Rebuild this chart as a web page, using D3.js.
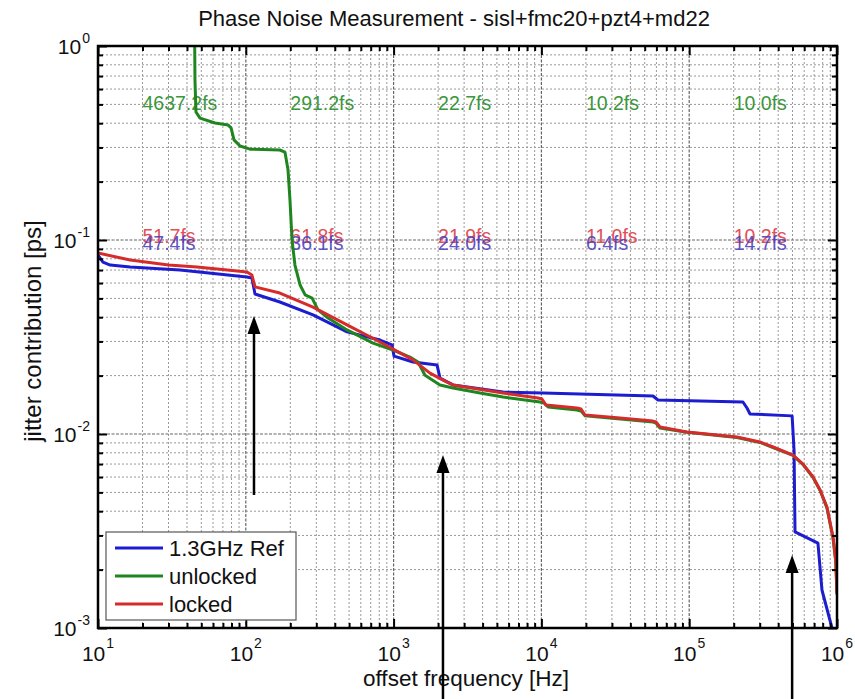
<!DOCTYPE html>
<html>
<head>
<meta charset="utf-8">
<script src="https://cdn.jsdelivr.net/npm/d3@7/dist/d3.min.js"></script>
<style>
  html, body { margin: 0; padding: 0; background: #fff; }
  svg { display: block; font-family: "Liberation Sans", Arial, Helvetica, sans-serif; }
</style>
</head>
<body>
<div id="chart"></div>
<script>
// ---------------- data ----------------
const title = "Phase Noise Measurement - sisl+fmc20+pzt4+md22";
const xLabel = "offset frequency [Hz]";
const yLabel = "jitter contribution [ps]";

const xTickExp = [1, 2, 3, 4, 5, 6];
const yTickExp = [-3, -2, -1, 0];

const seriesNames = ["1.3GHz Ref", "unlocked", "locked"];

// 1.3GHz Ref (blue)
const refFreq = [10, 10.8, 12.1, 16.5, 35.9, 101.8, 110, 115.4, 170, 285, 484, 809, 975, 1007,
  1352, 1967, 2060, 2523, 5500, 10260, 56900, 61500, 231000, 246000, 258000, 497000, 512000,
  520000, 743000, 791000, 925000, 960000];
const refJitter = [0.0837, 0.0770, 0.0743, 0.0726, 0.0701, 0.0645, 0.0637, 0.0527, 0.0479, 0.0411,
  0.0336, 0.0305, 0.0288, 0.0252, 0.0235, 0.0227, 0.0194, 0.0179, 0.01645, 0.01626, 0.01570,
  0.01497, 0.01462, 0.01361, 0.01268, 0.01240, 0.00827, 0.00313, 0.00274, 0.00157, 0.00100, 0.00085];

// unlocked (green)
const unlockedFreq = [45, 45.3, 46, 49, 61.9, 75.8, 79.5, 83.2, 91.4, 106.7, 170, 184, 193, 199,
  205.5, 215, 233, 252, 281, 308, 360, 484, 726, 991, 1291, 1463, 1631, 2060, 2523, 3846, 5500,
  9790, 10420, 11100, 17420, 18540, 19730, 56900, 59600, 63400, 96600, 210400, 301000, 369000,
  504000, 589000, 689000, 768000, 855000, 940000, 980000, 1000000];
const unlockedJitter = [1.3, 0.668, 0.457, 0.425, 0.401, 0.392, 0.378, 0.328, 0.305, 0.294, 0.291,
  0.284, 0.230, 0.161, 0.100, 0.0743, 0.0586, 0.0521, 0.0502, 0.0436, 0.0396, 0.0344, 0.0294,
  0.0271, 0.0249, 0.0235, 0.0201, 0.0179, 0.01726, 0.01626, 0.01551, 0.01462, 0.01445, 0.01378,
  0.01330, 0.01315, 0.01240, 0.01153, 0.01140, 0.01074, 0.01020, 0.00960, 0.00905, 0.00852,
  0.00775, 0.00696, 0.00596, 0.00511, 0.00416, 0.00290, 0.00221, 0.0015];

// locked (red)
const lockedFreq = [10, 16.5, 30, 46.8, 75, 101.8, 110, 115.4, 170, 285, 484, 809, 1352, 1762, 2297,
  2523, 5500, 9480, 10090, 10740, 17420, 18540, 19730, 34000, 56900, 59600, 63400, 96600, 210400,
  301000, 369000, 504000, 589000, 689000, 768000, 855000, 940000, 980000, 1000000];
const lockedJitter = [0.0857, 0.0788, 0.0743, 0.0726, 0.0701, 0.0684, 0.0660, 0.0573, 0.0533, 0.0451,
  0.0365, 0.0298, 0.0241, 0.0206, 0.0185, 0.0179, 0.01626, 0.01534, 0.01515, 0.01410, 0.01361,
  0.01346, 0.01253, 0.01208, 0.01166, 0.01153, 0.01087, 0.01024, 0.00966, 0.00910, 0.00857,
  0.00779, 0.00700, 0.00600, 0.00515, 0.00420, 0.00294, 0.00224, 0.00151];

// integrated jitter annotations per decade
const annotFreq = [20, 200, 2000, 20000, 200000];
const unlockedLabels = ["4637.2fs", "291.2fs", "22.7fs", "10.2fs", "10.0fs"];
const lockedLabels = ["51.7fs", "61.8fs", "21.9fs", "11.0fs", "10.2fs"];
const refLabels = ["47.4fs", "36.1fs", "24.0fs", "6.4fs", "14.7fs"];
const unlockedLabelLevel = 0.47;
const lockedLabelLevel = 0.096;
const refLabelLevel = 0.089;

// arrows (frequency, tip level, tail level)
const arrowFreq = [113.6, 2158, 497000];
const arrowTip = [0.0406, 0.0078, 0.00238];
const arrowTail = [0.00485, 0.00043, 0.00043];

// ---------------- drawing ----------------
const W = 855, H = 699;
const L = 98, R = 837, T = 46, B = 628;
const colors = { ref: "#1c1cd0", unlocked: "#1f861f", locked: "#d62b2b" };
const textColors = { ref: "#4a3dbf", unlocked: "#3c963c", locked: "#e2505a" };

const svg = d3.select("#chart").append("svg").attr("width", W).attr("height", H);

const x = d3.scaleLog().domain([10, 1e6]).range([L, R]);
const y = d3.scaleLog().domain([1e-3, 1]).range([B, T]);

const xMajor = xTickExp.map(e => Math.pow(10, e));
const yMajor = yTickExp.map(e => Math.pow(10, e));
const xMinor = [];
xMajor.slice(0, -1).forEach(d => { for (let k = 2; k <= 9; k++) xMinor.push(d * k); });
const yMinor = [];
yMajor.slice(0, -1).forEach(d => { for (let k = 2; k <= 9; k++) yMinor.push(d * k); });

// grid
const grid = svg.append("g");
grid.selectAll(".gxm").data(xMinor).join("line")
  .attr("x1", d => x(d)).attr("x2", d => x(d)).attr("y1", T).attr("y2", B)
  .attr("stroke", "#999").attr("stroke-width", 1).attr("stroke-dasharray", "2,2");
grid.selectAll(".gym").data(yMinor).join("line")
  .attr("y1", d => y(d)).attr("y2", d => y(d)).attr("x1", L).attr("x2", R)
  .attr("stroke", "#999").attr("stroke-width", 1).attr("stroke-dasharray", "2,2");
grid.selectAll(".gxM").data(xMajor).join("line")
  .attr("x1", d => x(d)).attr("x2", d => x(d)).attr("y1", T).attr("y2", B)
  .attr("stroke", "#666").attr("stroke-width", 1.2).attr("stroke-dasharray", "3,1.5");
grid.selectAll(".gyM").data(yMajor).join("line")
  .attr("y1", d => y(d)).attr("y2", d => y(d)).attr("x1", L).attr("x2", R)
  .attr("stroke", "#666").attr("stroke-width", 1.2).attr("stroke-dasharray", "3,1.5");

// clip
svg.append("clipPath").attr("id", "clip").append("rect")
  .attr("x", L).attr("y", T).attr("width", R - L).attr("height", B - T);

// annotation labels
const lab = svg.append("g").attr("font-size", "19.5px");
lab.selectAll(".lu").data(unlockedLabels).join("text")
  .attr("x", (d, i) => x(annotFreq[i])).attr("y", y(unlockedLabelLevel))
  .attr("fill", textColors.unlocked).text(d => d);
lab.selectAll(".ll").data(lockedLabels).join("text")
  .attr("x", (d, i) => x(annotFreq[i])).attr("y", y(lockedLabelLevel))
  .attr("fill", textColors.locked).text(d => d);
lab.selectAll(".lr").data(refLabels).join("text")
  .attr("x", (d, i) => x(annotFreq[i])).attr("y", y(refLabelLevel))
  .attr("fill", textColors.ref).attr("fill-opacity", 0.9).text(d => d);

// lines
const line = d3.line().x(d => x(d[0])).y(d => y(d[1]));
const plot = svg.append("g").attr("clip-path", "url(#clip)");
const series = [
  { key: "ref", f: refFreq, v: refJitter },
  { key: "unlocked", f: unlockedFreq, v: unlockedJitter },
  { key: "locked", f: lockedFreq, v: lockedJitter }
];
series.forEach(s => {
  plot.append("path")
    .attr("d", line(s.f.map((f, i) => [f, s.v[i]])))
    .attr("fill", "none").attr("stroke", colors[s.key])
    .attr("stroke-width", 3).attr("stroke-linejoin", "round").attr("stroke-linecap", "round");
});

// axes ticks (inward)
function tickAxis(axisFn, vals, len, transform) {
  const g = svg.append("g").attr("transform", transform)
    .call(axisFn.tickValues(vals).tickSize(-len).tickFormat(""));
  g.select(".domain").remove();
  g.selectAll(".tick line").attr("stroke", "#000").attr("stroke-width", 2);
}
tickAxis(d3.axisBottom(x), xMinor, 5, `translate(0,${B})`);
tickAxis(d3.axisBottom(x), xMajor, 9, `translate(0,${B})`);
tickAxis(d3.axisTop(x), xMinor, 5, `translate(0,${T})`);
tickAxis(d3.axisTop(x), xMajor, 9, `translate(0,${T})`);
tickAxis(d3.axisLeft(y), yMinor, 5, `translate(${L},0)`);
tickAxis(d3.axisLeft(y), yMajor, 9, `translate(${L},0)`);
tickAxis(d3.axisRight(y), yMinor, 5, `translate(${R},0)`);
tickAxis(d3.axisRight(y), yMajor, 9, `translate(${R},0)`);

// frame
svg.append("rect").attr("x", L).attr("y", T).attr("width", R - L).attr("height", B - T)
  .attr("fill", "none").attr("stroke", "#000").attr("stroke-width", 2.5);

// tick labels
const xt = svg.append("g").attr("font-size", "21px").attr("fill", "#111");
xTickExp.forEach(e => {
  const t = xt.append("text").attr("x", x(Math.pow(10, e))).attr("y", 661)
    .attr("text-anchor", "middle");
  t.append("tspan").text("10");
  t.append("tspan").attr("font-size", "14px").attr("dx", 1).attr("dy", -13).text(e);
});
const yt = svg.append("g").attr("font-size", "21px").attr("fill", "#111");
yTickExp.forEach(e => {
  const t = yt.append("text").attr("x", 90).attr("y", y(Math.pow(10, e)) + 7.5)
    .attr("text-anchor", "end");
  t.append("tspan").text("10");
  t.append("tspan").attr("font-size", "14px").attr("dx", 1).attr("dy", -11).text(e);
});

// titles
svg.append("text").attr("x", 454).attr("y", 26).attr("text-anchor", "middle")
  .attr("font-size", "22px").attr("fill", "#111").text(title);
svg.append("text").attr("x", 466).attr("y", 686).attr("text-anchor", "middle")
  .attr("font-size", "22.5px").attr("fill", "#111").text(xLabel);
svg.append("text").attr("transform", "translate(41,331) rotate(-90)").attr("text-anchor", "middle")
  .attr("font-size", "24px").attr("fill", "#111").text(yLabel);

// legend
const lg = svg.append("g");
lg.append("rect").attr("x", 106).attr("y", 532).attr("width", 190).attr("height", 88)
  .attr("fill", "#fff").attr("stroke", "#555").attr("stroke-width", 1.2);
const legendKeys = ["ref", "unlocked", "locked"];
seriesNames.forEach((name, i) => {
  const cy = 548 + i * 28;
  lg.append("line").attr("x1", 115).attr("x2", 163).attr("y1", cy).attr("y2", cy)
    .attr("stroke", colors[legendKeys[i]]).attr("stroke-width", 3);
  lg.append("text").attr("x", 169).attr("y", cy + 8).attr("font-size", "22px")
    .attr("fill", "#111").text(name);
});

// arrows
const ar = svg.append("g");
arrowFreq.forEach((f, i) => {
  const ax = x(f), tipY = y(arrowTip[i]), tailY = y(arrowTail[i]);
  ar.append("line").attr("x1", ax).attr("x2", ax).attr("y1", tailY).attr("y2", tipY + 12)
    .attr("stroke", "#000").attr("stroke-width", 2.5);
  ar.append("path")
    .attr("d", `M${ax},${tipY} L${ax - 6.5},${tipY + 18} L${ax + 6.5},${tipY + 18} Z`)
    .attr("fill", "#000");
});
</script>
</body>
</html>
